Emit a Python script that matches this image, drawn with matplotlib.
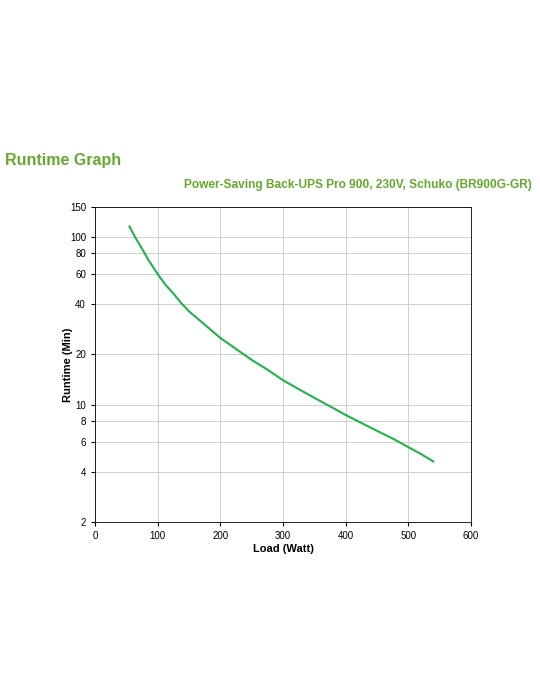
import matplotlib.pyplot as plt
from matplotlib.ticker import FixedLocator, NullLocator

plt.rcParams['font.family'] = ['Liberation Sans', 'DejaVu Sans']

# Runtime curve
load_watt = [55, 65, 75, 85, 100, 112, 125, 137, 150, 162, 175, 200, 225, 250, 275, 300,
             325, 350, 375, 400, 425, 450, 475, 500, 520, 540]
runtime_min = [115, 98, 85, 73, 60, 52, 46, 40.5, 36, 33, 30, 25, 21.5, 18.5, 16.2, 14,
               12.4, 11, 9.8, 8.7, 7.8, 7, 6.3, 5.6, 5.1, 4.6]
y_ticks = [2, 4, 6, 8, 10, 20, 40, 60, 80, 100, 150]
x_ticks = [0, 100, 200, 300, 400, 500, 600]

fig = plt.figure(figsize=(5.4, 7), dpi=100)
ax = fig.add_axes([0.176, 0.254, 0.696, 0.45])

ax.plot(load_watt, runtime_min, color='#22b14c', linewidth=1.5)
ax.set_yscale('log')
ax.set_xlim(0, 600)
ax.set_ylim(2, 150)
ax.yaxis.set_major_locator(FixedLocator(y_ticks))
ax.yaxis.set_minor_locator(NullLocator())
ax.set_yticklabels([str(v) for v in y_ticks])
ax.set_xticks(x_ticks)
ax.grid(True, color='#c8c8c8', linewidth=0.6)
ax.tick_params(labelsize=7, length=3)
for s in ax.spines.values():
    s.set_linewidth(0.6)
ax.set_xlabel('Load (Watt)', fontsize=8, fontweight='bold', labelpad=2)
ax.set_ylabel('Runtime (Min)', fontsize=8, fontweight='bold', labelpad=-2)

green = '#66a82e'
fig.text(5 / 540, 1 - 160 / 700, 'Runtime Graph', color=green, fontsize=11.5,
         fontweight='bold', va='center', ha='left')
fig.text(532 / 540, 1 - 185 / 700, 'Power-Saving Back-UPS Pro 900, 230V, Schuko (BR900G-GR)',
         color=green, fontsize=8.6, fontweight='bold', va='center', ha='right')

fig.savefig('out.png', dpi=100)
